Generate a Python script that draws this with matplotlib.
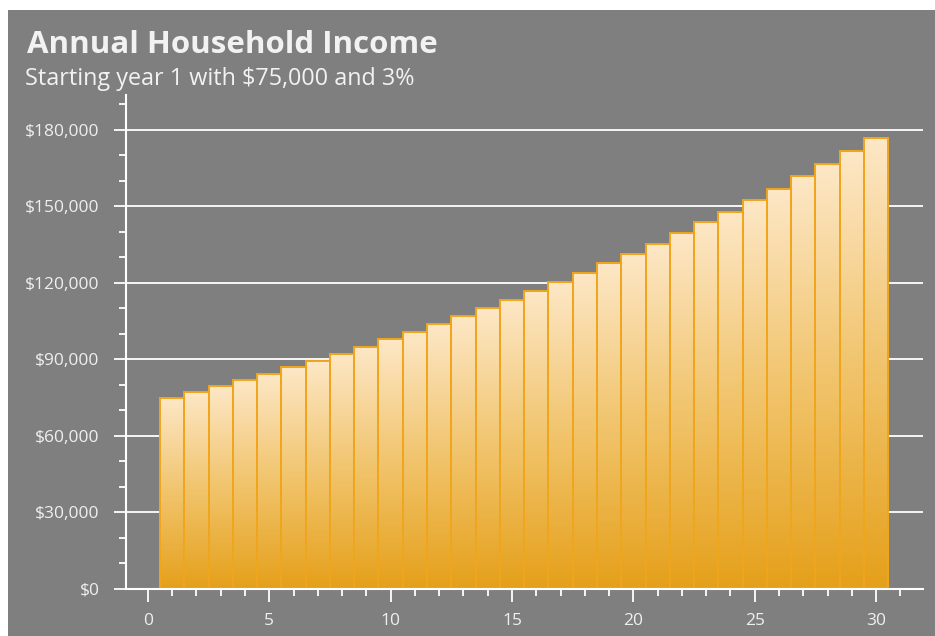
import numpy as np
import matplotlib.pyplot as plt
from matplotlib.patches import Rectangle
from matplotlib.colors import LinearSegmentedColormap
from matplotlib.ticker import MultipleLocator, FuncFormatter

years = list(range(1, 31))
income = [75000, 77250, 79568, 81955, 84413, 86946, 89554, 92241, 95008, 97858,
          100794, 103818, 106932, 110140, 113444, 116848, 120353, 123964, 127683, 131513,
          135459, 139522, 143708, 148019, 152460, 157034, 161745, 166597, 171595, 176743]

title = "Annual Household Income"
subtitle = "Starting year 1 with $75,000 and 3%"

bg = "#7f7f7f"
txt = "#f2f2f2"
edge = "#f0a51c"
grad = LinearSegmentedColormap.from_list("bar", ["#e5a01a", "#f1c46c", "#fde7c6"])

plt.rcParams['font.family'] = ['Open Sans', 'DejaVu Sans']

fig = plt.figure(figsize=(9.35, 6.36), dpi=100)
fig.patch.set_facecolor(bg)
# thin white margin on the top and left edges
fig.patches.append(Rectangle((0, 0), 8 / 935, 1, transform=fig.transFigure,
                             facecolor="white", edgecolor="none", zorder=-10))
fig.patches.append(Rectangle((0, 1 - 10 / 636), 1, 10 / 636, transform=fig.transFigure,
                             facecolor="white", edgecolor="none", zorder=-10))

ax = fig.add_axes([126 / 935, 1 - 589 / 636, (923 - 126) / 935, (589 - 95) / 636])
ax.set_facecolor("none")

# white grid lines at the major y ticks
for v in range(30000, 180001, 30000):
    ax.axhline(v, color="white", lw=1.3, zorder=1)

# bars with a vertical gradient each
g = np.linspace(0, 1, 256).reshape(-1, 1)
for x, v in zip(years, income):
    x0, x1 = x - 0.5, x + 0.5
    im = ax.imshow(g, cmap=grad, aspect="auto", origin="lower",
                   extent=(x0, x1, 0, v), zorder=2, interpolation="bilinear")
    r = Rectangle((x0, 0), 1, v, facecolor="none", edgecolor=edge, lw=1.4, zorder=3)
    ax.add_patch(r)
    im.set_clip_path(r)
ax.set_xlim(-0.9, 31.93)
ax.set_ylim(0, 193700)

for s in ["top", "right"]:
    ax.spines[s].set_visible(False)
for s in ["left", "bottom"]:
    ax.spines[s].set_color("white")
    ax.spines[s].set_linewidth(1.5)
    ax.spines[s].set_zorder(4)

ax.xaxis.set_major_locator(MultipleLocator(5))
ax.xaxis.set_minor_locator(MultipleLocator(1))
ax.yaxis.set_major_locator(MultipleLocator(30000))
ax.yaxis.set_minor_locator(MultipleLocator(10000))
ax.yaxis.set_major_formatter(FuncFormatter(lambda v, p: f"${v:,.0f}"))
ax.tick_params(which="major", length=9, width=1.3, color="white", labelcolor="#efefef",
               labelsize=12.5)
ax.tick_params(which="minor", length=5, width=1.3, color="white")
ax.tick_params(axis="y", which="major", pad=10)
ax.tick_params(axis="x", which="major", pad=8)

fig.text(27 / 935, 1 - 45 / 636, title, fontsize=22.5, fontweight="bold", color=txt,
         va="center", ha="left")
fig.text(25 / 935, 1 - 79 / 636, subtitle, fontsize=16.8, color=txt, va="center", ha="left")

fig.savefig("out.png", dpi=100, facecolor=fig.get_facecolor())
